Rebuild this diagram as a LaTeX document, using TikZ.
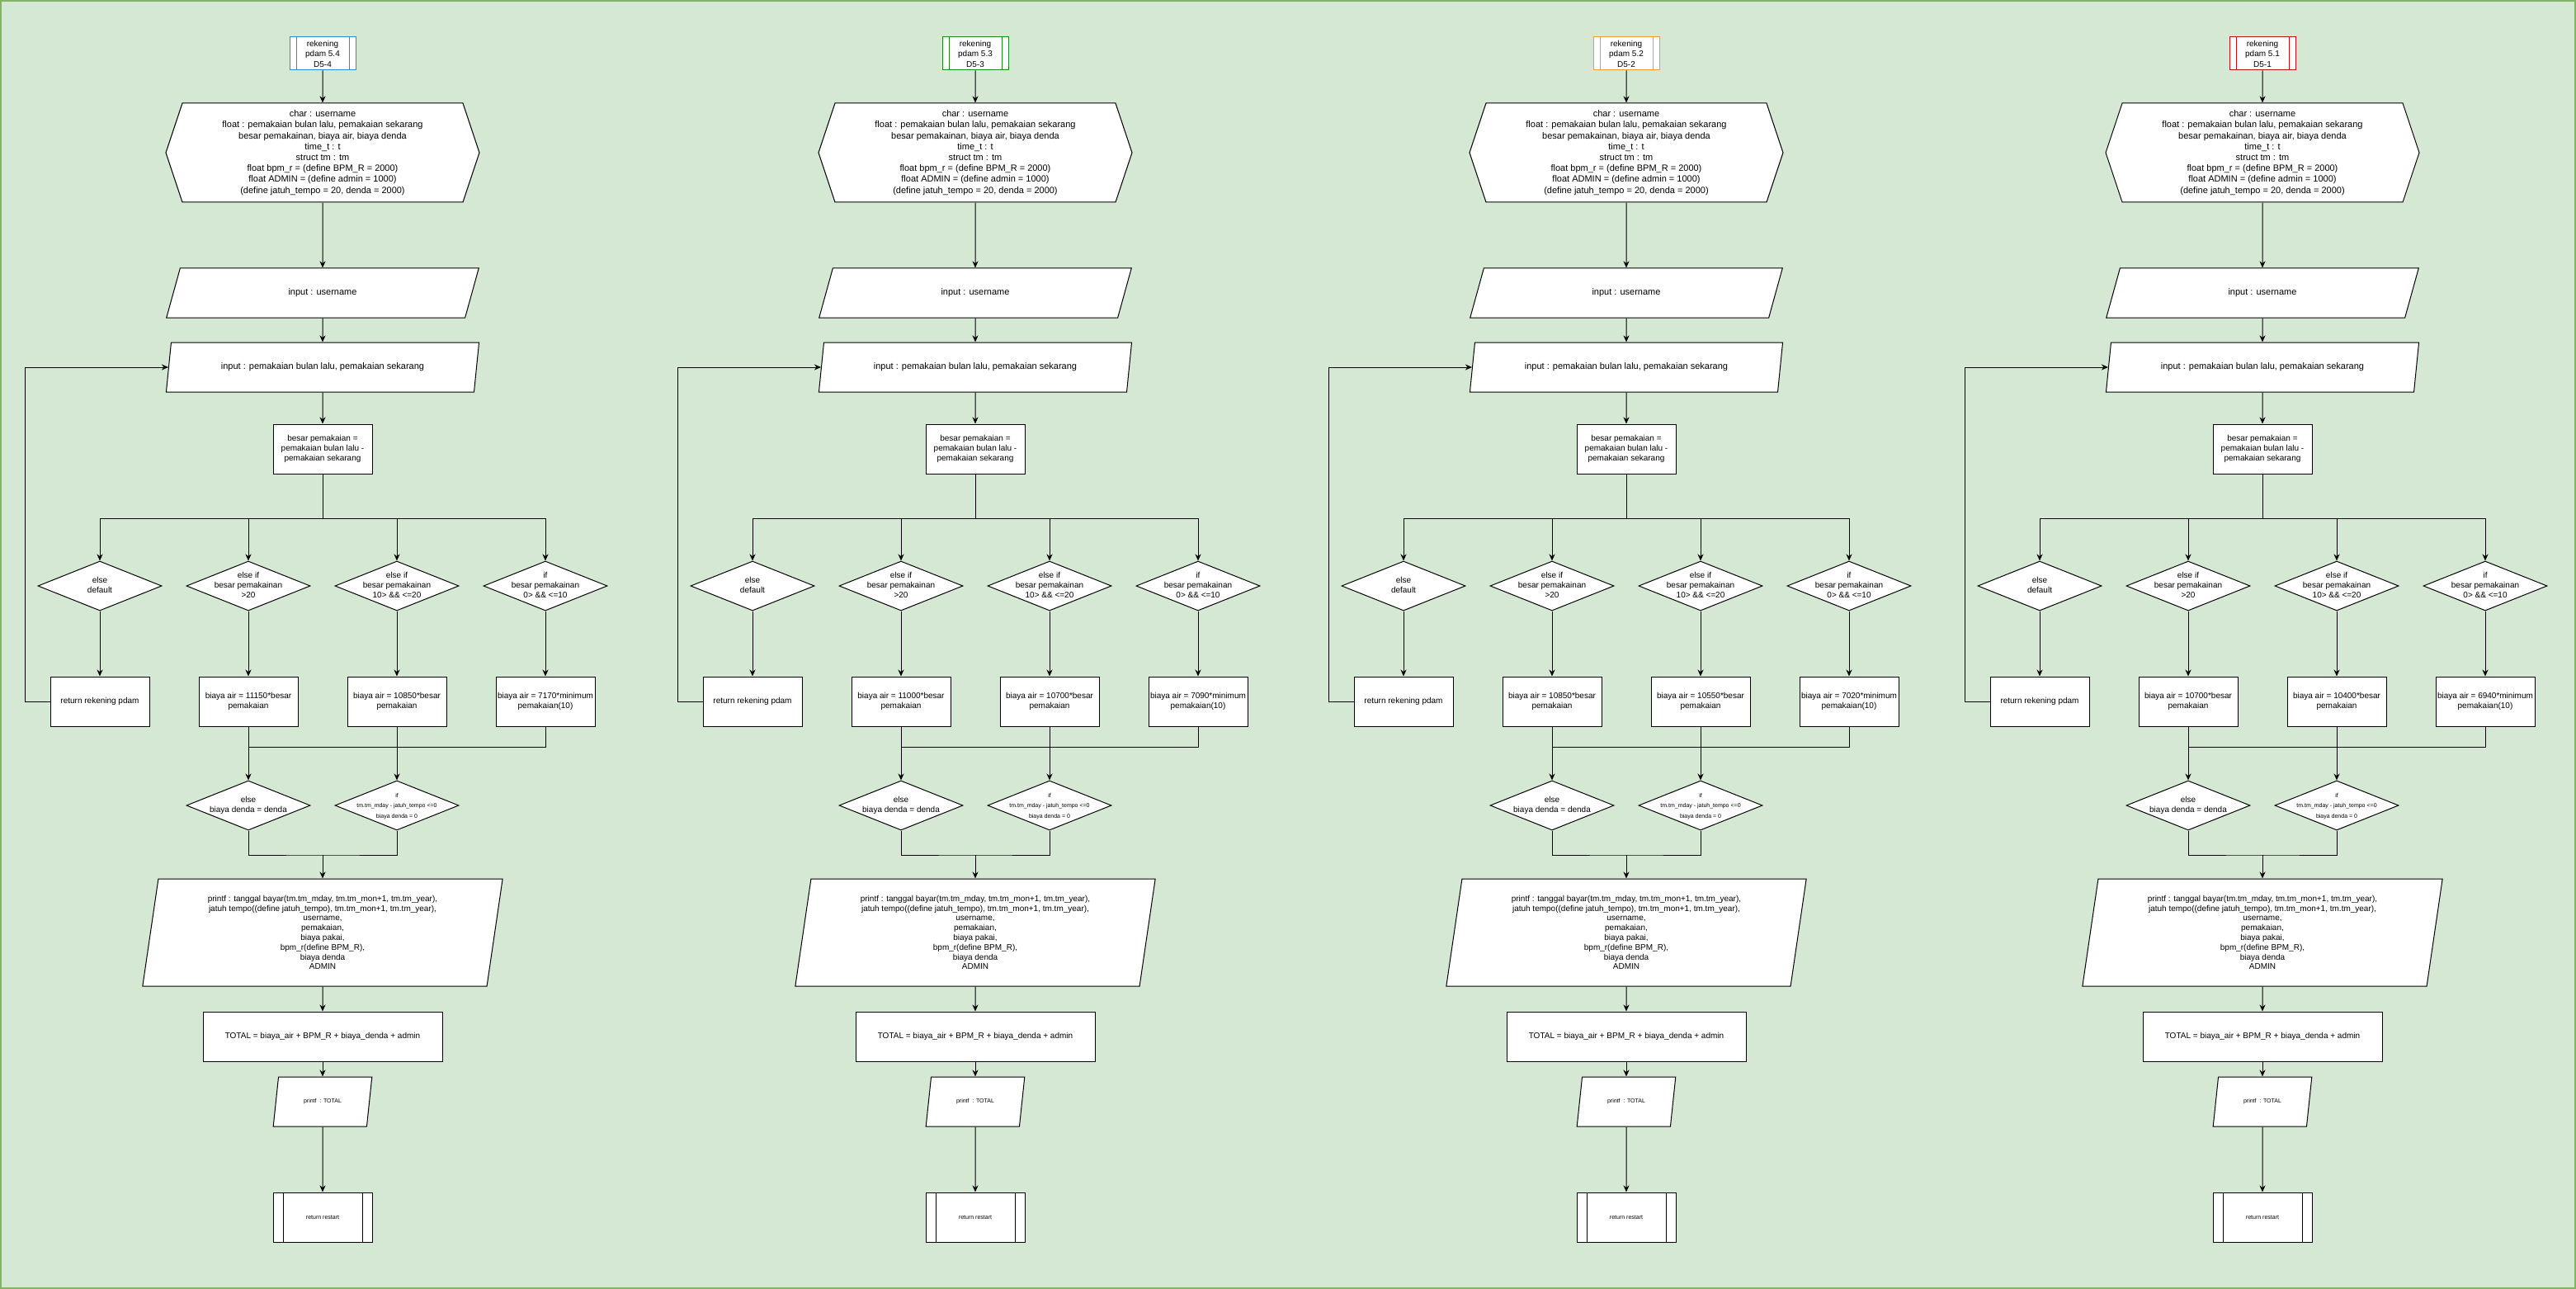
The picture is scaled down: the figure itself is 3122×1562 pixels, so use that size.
\documentclass[tikz,border=0pt]{standalone}
\usepackage{fontspec}
\setmainfont{Liberation Sans}
\usepackage{tikz}
\usetikzlibrary{arrows.meta}
\usetikzlibrary{shapes.geometric}
\usetikzlibrary{shapes.symbols}
\definecolor{bgfill}{HTML}{D5E8D4}
\definecolor{bgline}{HTML}{82B366}
\definecolor{tblue}{HTML}{2A8BD8}
\definecolor{tgreen}{HTML}{1E8A1E}
\definecolor{torange}{HTML}{F09A30}
\definecolor{tred}{HTML}{B8151B}
\newcommand{\dtext}[1]{\makebox[0pt]{\begin{tabular}{@{}c@{}}#1\end{tabular}}}
\tikzset{base/.style={draw,fill=white,line width=1pt,inner sep=1pt,font=\fontsize{10}{12}\selectfont},
         wire/.style={line width=1pt},
         arr/.style={wire,-{Stealth[length=8pt,width=7pt,inset=2.5pt]}},
         sideline/.style 2 args={path picture={\draw[line width=1pt,draw=#1]
            ([xshift=#2]path picture bounding box.north west) -- ([xshift=#2]path picture bounding box.south west)
            ([xshift=-#2]path picture bounding box.north east) -- ([xshift=-#2]path picture bounding box.south east);}},
         titlebox/.style={base,draw=#1,minimum width=80pt,minimum height=40pt,align=center,
            sideline={#1}{8pt},font=\fontsize{10}{12.5}\selectfont},
         hexa/.style={base,signal,signal to=west and east,signal pointer angle=143.13,
            minimum width=380pt,minimum height=120pt,align=center,font=\fontsize{11}{13.2}\selectfont},
         io/.style={base,trapezium,trapezium left angle=71.57,trapezium right angle=108.43,
            trapezium stretches=true,minimum height=60pt,align=center,font=\fontsize{11}{13.2}\selectfont},
         outbox/.style={base,trapezium,trapezium left angle=81.68,trapezium right angle=98.32,
            trapezium stretches=true,minimum width=437pt,minimum height=130pt,align=center,
            font=\fontsize{10}{11.8}\selectfont},
         procbox/.style={base,minimum width=120pt,minimum height=60pt,align=center},
         dia/.style={base,diamond,minimum width=150pt,minimum height=60pt,inner sep=0pt},
         restartbox/.style={base,minimum width=120pt,minimum height=60pt,sideline={black}{12pt},
            font=\fontsize{7}{8.4}\selectfont}}

\begin{document}
\begin{tikzpicture}[x=1pt,y=-1pt]
\useasboundingbox (0,0) rectangle (3122,1562);
\fill[bgfill] (0,0) rectangle (3122,1562);
\draw[bgline,line width=2pt] (1,1) rectangle (3121,1561);
% one flowchart per tariff version
\foreach \i/\cx/\col/\va/\vb/\vc in {4/391/tblue/11150/10850/7170,3/1182/tgreen/11000/10700/7090,
                                      2/1971/torange/10850/10550/7020,1/2742/tred/10700/10400/6940}{
\node[titlebox=\col] (title\i) at (\cx,65) {rekening\\pdam 5.\i\\D5-\i};
\node[hexa] (hex\i) at (\cx,185) {char : username\\float : pemakaian bulan lalu, pemakaian sekarang\\
  besar pemakainan, biaya air, biaya denda\\time\_t : t\\struct tm : tm\\float bpm\_r = (define BPM\_R = 2000)\\
  float ADMIN = (define admin = 1000)\\(define jatuh\_tempo = 20, denda = 2000)};
\node[io,minimum width=380pt] (inu\i) at (\cx,355) {input : username};
\node[io,minimum width=380pt] (inp\i) at (\cx,445) {input : pemakaian bulan lalu, pemakaian sekarang};
\node[procbox] (calc\i) at (\cx,544) {besar pemakaian =\\pemakaian bulan lalu -\\pemakaian sekarang};
\coordinate (br\i) at (\cx,628);
\node[dia] (dx\i) at (\cx-270,710) {\dtext{else\\default}};
\node[dia] (dgt\i) at (\cx-90,710) {\dtext{else if\\besar pemakainan\\>20}};
\node[dia] (dmid\i) at (\cx+90,710) {\dtext{else if\\besar pemakainan\\10> \&\& <=20}};
\node[dia] (dif\i) at (\cx+270,710) {\dtext{if\\besar pemakainan\\0> \&\& <=10}};
\node[procbox] (ret\i) at (\cx-270,850) {return rekening pdam};
\node[procbox] (bgt\i) at (\cx-90,850) {biaya air = \va*besar\\pemakaian};
\node[procbox] (bmid\i) at (\cx+90,850) {biaya air = \vb*besar\\pemakaian};
\node[procbox] (bmin\i) at (\cx+270,850) {biaya air = \vc*minimum\\pemakaian(10)};
\coordinate (mg\i) at (\cx-90,905);
\node[dia] (dden\i) at (\cx-90,976) {\dtext{else\\biaya denda = denda}};
\node[dia,font=\fontsize{7}{12.5}\selectfont] (dnol\i) at (\cx+90,976)
  {\dtext{if\\tm.tm\_mday - jatuh\_tempo <=0\\biaya denda = 0}};
\coordinate (jn\i) at (\cx,1036);
\node[outbox] (out\i) at (\cx,1130) {printf : tanggal bayar(tm.tm\_mday, tm.tm\_mon+1, tm.tm\_year),\\
  jatuh tempo((define jatuh\_tempo), tm.tm\_mon+1, tm.tm\_year),\\username,\\pemakaian,\\biaya pakai,\\
  bpm\_r(define BPM\_R),\\biaya denda\\ADMIN};
\node[procbox,minimum width=290pt] (tot\i) at (\cx,1256) {TOTAL = biaya\_air + BPM\_R + biaya\_denda + admin};
\node[io,minimum width=120pt,font=\fontsize{7}{8.4}\selectfont] (ptot\i) at (\cx,1335) {printf\ \ : TOTAL};
\node[restartbox] (rst\i) at (\cx,1475) {return restart};
\draw[arr] (title\i) -- (hex\i);
\draw[arr] (hex\i) -- (inu\i);
\draw[arr] (inu\i) -- (inp\i);
\draw[arr] (inp\i) -- (calc\i);
\draw[wire] (calc\i) -- (br\i);
\foreach \d in {dx,dgt,dmid,dif}
  \draw[arr] (br\i) -| (\d\i);
\draw[arr] (dx\i) -- (ret\i);
\draw[arr] (dgt\i) -- (bgt\i);
\draw[arr] (dmid\i) -- (bmid\i);
\draw[arr] (dif\i) -- (bmin\i);
\draw[arr] (ret\i.west) -- ++(-30,0) |- (inp\i);
\draw[wire] (bmin\i) |- (mg\i);
\draw[arr] (bgt\i) -- (dden\i);
\draw[arr] (bmid\i) -- (dnol\i);
\draw[wire] (dden\i) |- (jn\i) -| (dnol\i);
\draw[arr] (jn\i) -- (out\i);
\draw[arr] (out\i) -- (tot\i);
\draw[arr] (tot\i) -- (ptot\i);
\draw[arr] (ptot\i) -- (rst\i);
}
\end{tikzpicture}
\end{document}
